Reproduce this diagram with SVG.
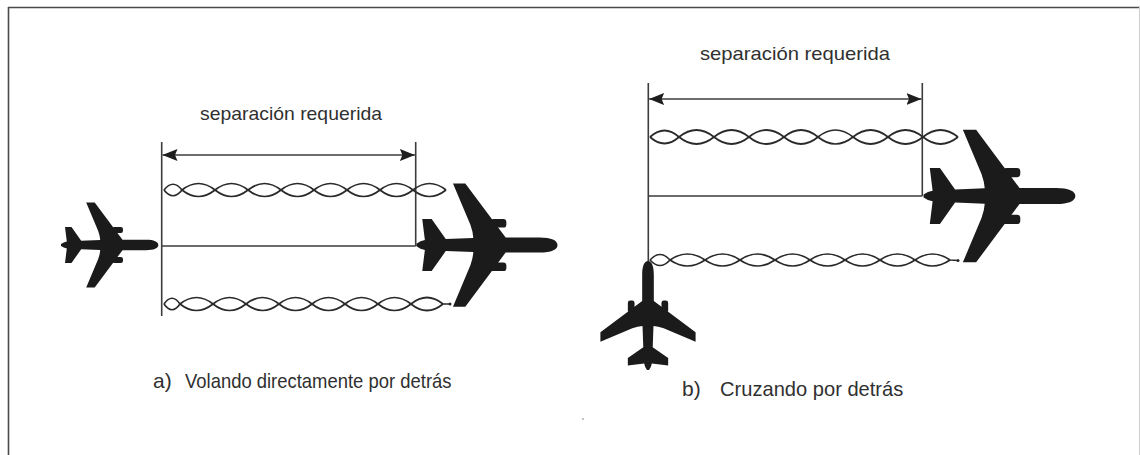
<svg xmlns="http://www.w3.org/2000/svg" xmlns:xlink="http://www.w3.org/1999/xlink" width="1140" height="455" viewBox="0 0 1140 455">
  <style>
    .line { fill: none; stroke: #3c3c3c; stroke-width: 1.6; }
    .wake { fill: none; stroke: #2a2a2a; stroke-width: 1.7; stroke-linejoin: round; }
    .plane { fill: #1b1b1b; }
    .dim { font-family: "Liberation Sans Narrow", "Liberation Sans", Arial, sans-serif; font-size: 18.5px; fill: #303030; }
    .cap { font-family: "Liberation Sans Narrow", "Liberation Sans", Arial, sans-serif; font-size: 21px; fill: #303030; }
  </style>
  <defs>
    <marker id="ah" markerWidth="15" markerHeight="12" refX="15" refY="6" orient="auto-start-reverse" markerUnits="userSpaceOnUse">
      <path d="M0,0 L15,6 L0,12 L2.5,6 Z" fill="#1e1e1e"/>
    </marker>
    <!-- airliner seen from above, nose towards +x, centred on the fuselage -->
    <g id="plane">
      <path d="M48.3,0 C48.3,-3.2 44,-5.2 36,-5.2 L12.5,-5.2 L-15.3,-42.5 L-23.8,-42.5 L-11.8,-14 Q-10,-9 -9.8,-4.9 L-28.8,-4.2 L-38.5,-18 L-45,-18 L-43.2,-3.4 L-46.2,-2.6 L-49,-0.9 L-49,0.9 L-46.2,2.6 L-43.2,3.4 L-45,18 L-38.5,18 L-28.8,4.2 L-9.8,4.9 Q-10,9 -11.8,14 L-23.8,42.5 L-15.3,42.5 L12.5,5.2 L36,5.2 C44,5.2 48.3,3.2 48.3,0 Z"/>
      <rect x="2" y="-18" width="11" height="6" rx="2.2"/>
      <rect x="2" y="12" width="11" height="6" rx="2.2"/>
    </g>
  </defs>

  <rect width="1140" height="455" fill="#ffffff"/>

  <!-- frame -->
  <g id="frame">
    <path d="M8,7.5 H1140 M8.5,7 V455" fill="none" stroke="#4a4a4a" stroke-width="1.6"/>
    <path d="M1139.5,7 V455" fill="none" stroke="#cfcfcf" stroke-width="1"/>
    <circle cx="583" cy="419" r="0.8" fill="#777"/>
  </g>

  <!-- connectors: separation brackets and dimension arrows -->
  <g id="connectors">
    <path class="line" d="M161.7,142 V316 M415.7,142 V246 M161.7,246 H415.7"/>
    <line class="line" x1="162.5" y1="155" x2="414.9" y2="155" marker-start="url(#ah)" marker-end="url(#ah)"/>
    <path class="line" d="M648.3,83 V263 M922.3,83 V196 M648.3,196 H922.3"/>
    <line class="line" x1="649.1" y1="99" x2="921.5" y2="99" marker-start="url(#ah)" marker-end="url(#ah)"/>
  </g>

  <!-- wake vortices -->
  <g id="wakes">
    <g id="wake-a-top" class="wake">
      <path d="M164,190 Q173,178.5 182,190 Q198.5,203 215,190 Q231.5,177 248,190 Q264.5,203 281,190 Q297.5,177 314,190 Q330.5,203 347,190 Q363.5,177 380,190 Q396.5,203 413,190 Q429.5,177 446,190"/>
      <path d="M164,190 Q173,201.5 182,190 Q198.5,177 215,190 Q231.5,203 248,190 Q264.5,177 281,190 Q297.5,203 314,190 Q330.5,177 347,190 Q363.5,203 380,190 Q396.5,177 413,190 Q429.5,203 446,190"/>
    </g>
    <g id="wake-a-bottom" class="wake">
      <path d="M164,304 Q172,292.5 180,304 Q196.5,317 213,304 Q229.5,291 246,304 Q262.5,317 279,304 Q295.5,291 312,304 Q328.5,317 345,304 Q361.5,291 378,304 Q394.5,317 411,304 Q427,291 443,304 L450,304"/>
      <path d="M164,304 Q172,315.5 180,304 Q196.5,291 213,304 Q229.5,317 246,304 Q262.5,291 279,304 Q295.5,317 312,304 Q328.5,291 345,304 Q361.5,317 378,304 Q394.5,291 411,304 Q427,317 443,304"/>
      <circle cx="450" cy="304" r="1.5" fill="#2a2a2a" stroke="none"/>
    </g>
    <g id="wake-b-top" class="wake">
      <path d="M650,137 Q664.5,124 679,137 Q696.5,151 714,137 Q731.5,123 749,137 Q766.5,151 784,137 Q801,123 818,137 Q835.5,151 853,137 Q870.5,123 888,137 Q905.5,151 923,137 Q940.5,123 958,137"/>
      <path d="M650,137 Q664.5,150 679,137 Q696.5,123 714,137 Q731.5,151 749,137 Q766.5,123 784,137 Q801,151 818,137 Q835.5,123 853,137 Q870.5,151 888,137 Q905.5,123 923,137 Q940.5,151 958,137"/>
    </g>
    <g id="wake-b-bottom" class="wake">
      <path d="M650,260 Q660,249 670,260 Q687.5,272 705,260 Q722.5,248 740,260 Q757.5,272 775,260 Q792.5,248 810,260 Q827.5,272 845,260 Q862.5,248 880,260 Q897.5,272 915,260 Q932.5,248 950,260 L958,260.5"/>
      <path d="M650,260 Q660,271 670,260 Q687.5,248 705,260 Q722.5,272 740,260 Q757.5,248 775,260 Q792.5,272 810,260 Q827.5,248 845,260 Q862.5,272 880,260 Q897.5,248 915,260 Q932.5,272 950,260"/>
      <circle cx="958" cy="260.5" r="1.5" fill="#2a2a2a" stroke="none"/>
    </g>
  </g>

  <!-- aircraft -->
  <g id="follower-a" class="plane"><use xlink:href="#plane" transform="translate(110,245)"/></g>
  <g id="leader-a" class="plane"><use xlink:href="#plane" transform="translate(487.5,245) scale(1.45)"/></g>
  <g id="leader-b" class="plane"><use xlink:href="#plane" transform="translate(1000,196) scale(1.56)"/></g>
  <g id="follower-b" class="plane"><use xlink:href="#plane" transform="translate(648,315) rotate(-90) scale(1.12)"/></g>

  <!-- labels -->
  <g id="labels">
    <text class="dim" x="200" y="119.5" textLength="182" lengthAdjust="spacingAndGlyphs">separación requerida</text>
    <text class="dim" x="700" y="59.5" textLength="190" lengthAdjust="spacingAndGlyphs">separación requerida</text>
    <text class="cap" x="153" y="388.3">a)</text>
    <text class="cap" x="185" y="388.3" textLength="266.5" lengthAdjust="spacingAndGlyphs">Volando directamente por detrás</text>
    <text class="cap" x="682" y="395.5">b)</text>
    <text class="cap" x="720" y="395.5" textLength="183.3" lengthAdjust="spacingAndGlyphs">Cruzando por detrás</text>
  </g>
</svg>
